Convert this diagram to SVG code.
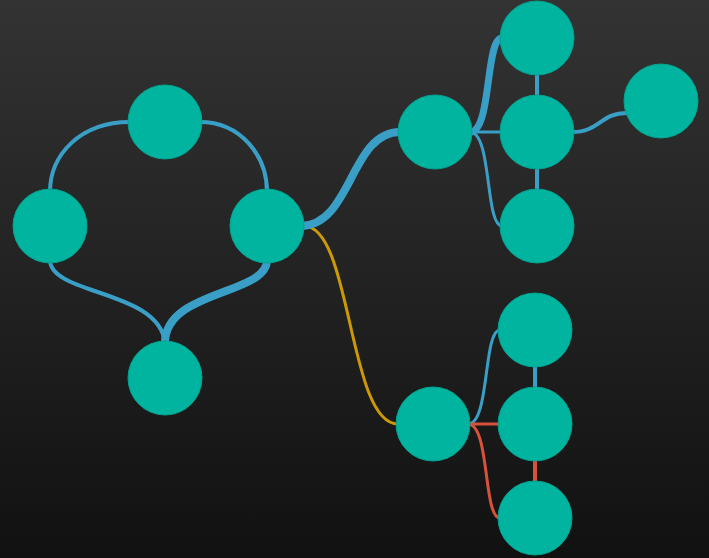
<svg xmlns="http://www.w3.org/2000/svg" width="709" height="558" viewBox="0 0 709 558">
<defs>
<linearGradient id="bg" x1="0" y1="0" x2="0" y2="1">
<stop offset="0" stop-color="#333333"/>
<stop offset="1" stop-color="#111111"/>
</linearGradient>
</defs>
<style>
.n{fill:#00b4a0;stroke:#00a390;stroke-width:1}
.e{fill:none;stroke-linecap:butt}
.b{stroke:#399fc7}
.g{stroke:#cc9906}
.r{stroke:#d6523a}
</style>
<rect width="709" height="558" fill="url(#bg)"/>
<g id="edges">
<path class="e b" stroke-width="4" d="M130,122 C80,122 50,155 50,192"/>
<path class="e b" stroke-width="4" d="M200,122 C240,122 267,155 267,192"/>
<path class="e b" stroke-width="4" d="M50,260 C50,295 160,290 165,343"/>
<path class="e b" stroke-width="8" d="M267,260 C267,295 165,290 165,343"/>
<path class="e g" stroke-width="3" d="M304,226 C352,226 348,424 398,424"/>
<path class="e b" stroke-width="8" d="M300,226 C352,226 350,132 400,132"/>
<path class="e b" stroke-width="7" d="M470,132 C492,132 485,38 502,38"/>
<path class="e b" stroke-width="3" d="M470,132 L502,132"/>
<path class="e b" stroke-width="3" d="M470,132 C492,132 485,226 502,226"/>
<path class="e b" stroke-width="4" d="M537,72 L537,98"/>
<path class="e b" stroke-width="4" d="M537,166 L537,192"/>
<path class="e b" stroke-width="4" d="M572,132 C600,132 600,113 627,113"/>
<path class="e b" stroke-width="3" d="M468,424 C490,424 483,330 500,330"/>
<path class="e r" stroke-width="3" d="M468,424 L500,424"/>
<path class="e r" stroke-width="3" d="M468,424 C490,424 483,518 500,518"/>
<path class="e b" stroke-width="4" d="M535,364 L535,390"/>
<path class="e r" stroke-width="4" d="M535,458 L535,484"/>
</g>
<g id="nA"><circle class="n" cx="165" cy="122" r="37"/></g>
<g id="nB"><circle class="n" cx="50" cy="226" r="37"/></g>
<g id="nC"><circle class="n" cx="267" cy="226" r="37"/></g>
<g id="nD"><circle class="n" cx="165" cy="378" r="37"/></g>
<g id="nE"><circle class="n" cx="435" cy="132" r="37"/></g>
<g id="nF"><circle class="n" cx="537" cy="38" r="37"/></g>
<g id="nG"><circle class="n" cx="537" cy="132" r="37"/></g>
<g id="nH"><circle class="n" cx="537" cy="226" r="37"/></g>
<g id="nI"><circle class="n" cx="661" cy="101" r="37"/></g>
<g id="nJ"><circle class="n" cx="433" cy="424" r="37"/></g>
<g id="nK"><circle class="n" cx="535" cy="330" r="37"/></g>
<g id="nL"><circle class="n" cx="535" cy="424" r="37"/></g>
<g id="nM"><circle class="n" cx="535" cy="518" r="37"/></g>
</svg>
